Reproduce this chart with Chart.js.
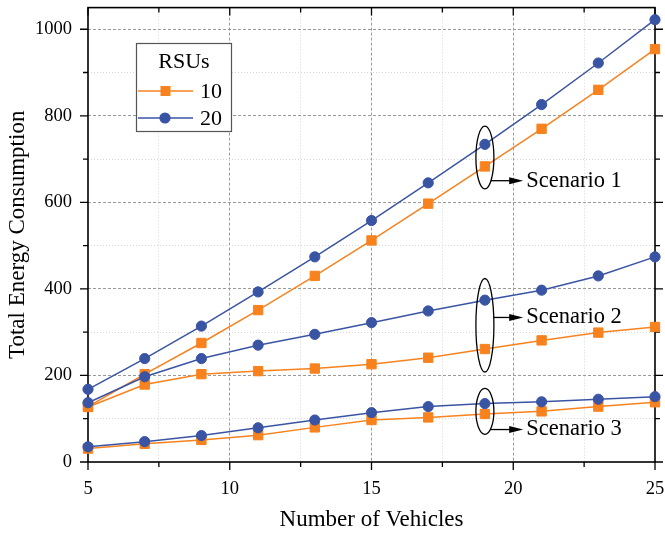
<!DOCTYPE html>
<html>
<head>
<meta charset="utf-8">
<script src="https://cdn.jsdelivr.net/npm/chart.js@4.4.1/dist/chart.umd.min.js"></script>
<style>
    html, body { margin: 0; padding: 0; background: #fff; }
</style>
</head>
<body>
<canvas id="energyChart" width="665" height="534"></canvas>
<script>
// Data
const vehicles = [5, 7, 9, 11, 13, 15, 17, 19, 21, 23, 25];

const scenario1Rsu10 = [128, 203, 275, 351, 430, 512, 597, 683, 770, 860, 954];
const scenario1Rsu20 = [168, 239, 314, 393, 474, 558, 645, 734, 826, 922, 1022];
const scenario2Rsu10 = [127, 179, 203, 210, 216, 226, 241, 261, 281, 299, 312];
const scenario2Rsu20 = [137, 197, 239, 270, 295, 322, 349, 374, 397, 430, 474];
const scenario3Rsu10 = [31, 42, 51, 62, 80, 97, 103, 111, 117, 128, 138];
const scenario3Rsu20 = [35, 47, 61, 79, 97, 114, 128, 135, 139, 145, 151];

const rsuLabels = ['10', '20'];
const scenarioNames = ['Scenario 1', 'Scenario 2', 'Scenario 3'];

// Colours and fonts
const ORANGE = '#F7821E';
const BLUE = '#3A54A4';
const SERIF = "'Liberation Serif', 'DejaVu Serif', serif";

// Callout ellipses (data units), arrow level and where the arrow stops
const callouts = [
    { x: 19, yLow: 631, yHigh: 776, arrowY: 650 },
    { x: 19, yLow: 208, yHigh: 424, arrowY: 334 },
    { x: 19, yLow: 64, yHigh: 170, arrowY: 75 }
];
const ARROW_TIP_X = 20.35;

function toPoints(values) {
    return vehicles.map((v, i) => ({ x: v, y: values[i] }));
}

function makeDataset(label, values, rsu) {
    const isTen = rsu === '10';
    return {
        label: label,
        data: toPoints(values),
        borderColor: isTen ? ORANGE : BLUE,
        backgroundColor: isTen ? ORANGE : BLUE,
        borderWidth: 1.5,
        pointStyle: isTen ? 'rect' : 'circle',
        pointRadius: isTen ? 6.6 : 5.1,
        pointBorderWidth: 1,
        tension: 0,
        clip: false,
        order: isTen ? 2 : 1
    };
}

// Frame with ticks on all four sides
const framePlugin = {
    id: 'frame',
    beforeDatasetsDraw(chart) {
        const { ctx, chartArea: a, scales: { x, y } } = chart;
        ctx.save();
        ctx.strokeStyle = '#000';
        ctx.lineWidth = 1.6;
        ctx.strokeRect(a.left, a.top, a.right - a.left, a.bottom - a.top);
        ctx.lineWidth = 1.3;
        ctx.beginPath();
        x.ticks.forEach(t => {
            const px = x.getPixelForValue(t.value);
            const len = t.value % 5 === 0 ? 8 : 5;
            ctx.moveTo(px, a.bottom);
            ctx.lineTo(px, a.bottom + len);
            ctx.moveTo(px, a.top);
            ctx.lineTo(px, a.top + len);
        });
        y.ticks.forEach(t => {
            if (t.value > 1000) return;
            const py = y.getPixelForValue(t.value);
            const len = t.value % 200 === 0 ? 8 : 5;
            ctx.moveTo(a.left, py);
            ctx.lineTo(a.left - len, py);
            ctx.moveTo(a.right, py);
            ctx.lineTo(a.right + len, py);
        });
        ctx.stroke();
        ctx.restore();
    }
};

// Legend box and scenario callouts
const overlayPlugin = {
    id: 'overlay',
    afterDatasetsDraw(chart) {
        const { ctx, scales: { x, y } } = chart;
        ctx.save();

        // legend
        ctx.fillStyle = '#fff';
        ctx.fillRect(136, 43, 96, 89);
        ctx.strokeStyle = '#555';
        ctx.lineWidth = 1.2;
        ctx.strokeRect(136.5, 43.5, 95, 88);
        ctx.fillStyle = '#000';
        ctx.font = '22px ' + SERIF;
        ctx.textAlign = 'center';
        ctx.textBaseline = 'middle';
        ctx.fillText('RSUs', 184, 62);
        ctx.textAlign = 'left';
        const rows = [91, 118];
        rsuLabels.forEach((lab, i) => {
            const col = i === 0 ? ORANGE : BLUE;
            const yy = rows[i];
            ctx.strokeStyle = col;
            ctx.lineWidth = 1.5;
            ctx.beginPath();
            ctx.moveTo(138, yy);
            ctx.lineTo(193, yy);
            ctx.stroke();
            ctx.fillStyle = col;
            if (i === 0) {
                ctx.fillRect(160.5, yy - 5, 10, 10);
            } else {
                ctx.beginPath();
                ctx.arc(165, yy, 5.6, 0, Math.PI * 2);
                ctx.fill();
            }
            ctx.fillStyle = '#000';
            ctx.fillText(lab, 200, yy + 1);
        });

        // callouts
        ctx.strokeStyle = '#000';
        ctx.fillStyle = '#000';
        ctx.lineWidth = 1.3;
        ctx.font = '22.5px ' + SERIF;
        callouts.forEach((c, i) => {
            const cx = x.getPixelForValue(c.x);
            const top = y.getPixelForValue(c.yHigh);
            const bottom = y.getPixelForValue(c.yLow);
            const cy = (top + bottom) / 2;
            const ry = (bottom - top) / 2;
            const rx = 9;
            ctx.beginPath();
            ctx.ellipse(cx, cy, rx, ry, 0, 0, Math.PI * 2);
            ctx.stroke();

            const ay = y.getPixelForValue(c.arrowY);
            const k = (ay - cy) / ry;
            const ax = cx + rx * Math.sqrt(Math.max(0, 1 - k * k));
            const tip = x.getPixelForValue(ARROW_TIP_X);
            ctx.beginPath();
            ctx.moveTo(ax, ay);
            ctx.lineTo(tip - 12, ay);
            ctx.stroke();
            ctx.beginPath();
            ctx.moveTo(tip, ay);
            ctx.lineTo(tip - 14, ay - 3.5);
            ctx.lineTo(tip - 14, ay + 3.5);
            ctx.closePath();
            ctx.fill();

            ctx.textBaseline = 'middle';
            ctx.fillText(scenarioNames[i], tip + 3, ay);
        });

        ctx.restore();
    }
};

function gridColor(isMajor, atEdge) {
    if (atEdge) return 'rgba(0,0,0,0)';
    return isMajor ? '#9a9a9a' : '#d6d6d6';
}

const chart = new Chart(document.getElementById('energyChart'), {
    type: 'line',
    data: {
        datasets: [
            makeDataset('Scenario 1 - 10', scenario1Rsu10, '10'),
            makeDataset('Scenario 1 - 20', scenario1Rsu20, '20'),
            makeDataset('Scenario 2 - 10', scenario2Rsu10, '10'),
            makeDataset('Scenario 2 - 20', scenario2Rsu20, '20'),
            makeDataset('Scenario 3 - 10', scenario3Rsu10, '10'),
            makeDataset('Scenario 3 - 20', scenario3Rsu20, '20')
        ]
    },
    options: {
        responsive: false,
        animation: false,
        devicePixelRatio: 1,
        layout: { padding: { top: 7, right: 10, left: 0, bottom: 0 } },
        plugins: {
            legend: { display: false },
            tooltip: { enabled: false }
        },
        scales: {
            x: {
                type: 'linear',
                min: 5,
                max: 25,
                afterFit: scale => {
                    scale.height = 72;
                    scale.paddingLeft = 0;
                    scale.paddingRight = 0;
                },
                ticks: {
                    stepSize: 2.5,
                    autoSkip: false,
                    maxRotation: 0,
                    padding: 16,
                    color: '#000',
                    font: { family: SERIF, size: 18.5 },
                    callback: v => (v % 5 === 0 ? String(v) : '')
                },
                grid: {
                    drawTicks: false,
                    lineWidth: 1,
                    color: c => gridColor(c.tick && c.tick.value % 5 === 0, c.tick && (c.tick.value === 5 || c.tick.value === 25))
                },
                border: {
                    display: false,
                    dash: c => (c.tick && c.tick.value % 5 === 0 ? [3, 2] : [1, 2])
                },
                title: {
                    display: true,
                    text: 'Number of Vehicles',
                    color: '#000',
                    font: { family: SERIF, size: 23 },
                    padding: { top: 0, bottom: 0 }
                }
            },
            y: {
                min: 0,
                max: 1050,
                afterFit: scale => {
                    scale.width = 88;
                    scale.paddingTop = 0;
                    scale.paddingBottom = 0;
                },
                ticks: {
                    stepSize: 100,
                    includeBounds: false,
                    padding: 16,
                    color: '#000',
                    font: { family: SERIF, size: 18.5 },
                    callback: v => (v % 200 === 0 && v <= 1000 ? String(v) : '')
                },
                grid: {
                    drawTicks: false,
                    lineWidth: 1,
                    color: c => gridColor(c.tick && c.tick.value % 200 === 0, c.tick && (c.tick.value === 0 || c.tick.value > 1000))
                },
                border: {
                    display: false,
                    dash: c => (c.tick && c.tick.value % 200 === 0 ? [3, 2] : [1, 2])
                },
                title: {
                    display: true,
                    text: 'Total Energy Consumption',
                    color: '#000',
                    font: { family: SERIF, size: 23 },
                    padding: { top: 4, bottom: 0 }
                }
            }
        }
    },
    plugins: [framePlugin, overlayPlugin]
});
</script>
</body>
</html>
